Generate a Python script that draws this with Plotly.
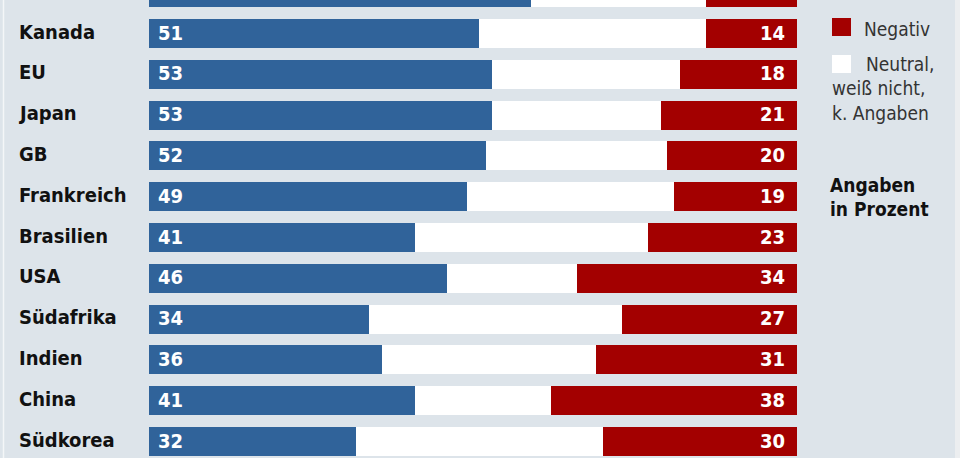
import plotly.graph_objects as go

countries = ["Deutschland", "Kanada", "EU", "Japan", "GB", "Frankreich", "Brasilien",
             "USA", "Südafrika", "Indien", "China", "Südkorea"]
positiv = [59, 51, 53, 53, 52, 49, 41, 46, 34, 36, 41, 32]
neutral = [27, 35, 29, 26, 28, 32, 36, 20, 39, 33, 21, 38]
negativ = [14, 14, 18, 21, 20, 19, 23, 34, 27, 31, 38, 30]

BLUE = "#30639a"
RED = "#a30000"
BG = "#dde4ea"
FONT = "DejaVu Sans Condensed, Liberation Sans Narrow, Roboto, sans-serif"

W, H = 960, 458
x0_px, x100_px = 149, 797
ppu = (x100_px - x0_px) / 100.0
xr = [-x0_px / ppu, (W - x0_px) / ppu]

pitch = (441.5 - 33.5) / 10
first_center = 33.5 - pitch
yr = [(H - first_center) / pitch, (0 - first_center) / pitch]

fig = go.Figure()
for vals, col, name in [(positiv, BLUE, "Positiv"), (neutral, "#ffffff", "Neutral"), (negativ, RED, "Negativ")]:
    fig.add_trace(go.Bar(y=countries, x=vals, orientation="h", marker=dict(color=col, line=dict(width=0)),
                         width=29 / pitch, name=name, showlegend=False, hoverinfo="skip"))

ann = []
for c, p, n in zip(countries, positiv, negativ):
    ann.append(dict(x=(18 - x0_px) / ppu, y=c, xref="x", yref="y", text=f"<b>{c}</b>", showarrow=False,
                    xanchor="left", yanchor="middle", yshift=2, xshift=-1,
                    font=dict(family=FONT, size=20, color="#111111")))
    ann.append(dict(x=0, y=c, xref="x", yref="y", text=f"<b>{p}</b>", showarrow=False, xshift=7, yshift=1,
                    xanchor="left", yanchor="middle", font=dict(family=FONT, size=20, color="#ffffff")))
    ann.append(dict(x=100, y=c, xref="x", yref="y", text=f"<b>{n}</b>", showarrow=False, xshift=-10, yshift=1,
                    xanchor="right", yanchor="middle", font=dict(family=FONT, size=20, color="#ffffff")))

def px_x(px):
    return px / W

def px_y(py):
    return 1 - py / H

legend_items = [("Positiv", BLUE, -19), ("Negativ", RED, 18), ("", "#ffffff", 55)]
shapes = []
for lab, col, top in legend_items:
    shapes.append(dict(type="rect", xref="paper", yref="paper", x0=px_x(832), x1=px_x(851),
                       y0=px_y(top + 18), y1=px_y(top), fillcolor=col, line=dict(width=0)))
    if lab:
        ann.append(dict(x=px_x(862), y=px_y(top + 11), xref="paper", yref="paper", text=lab, showarrow=False,
                        xanchor="left", yanchor="middle", font=dict(family=FONT, size=19, color="#333333")))
ann.append(dict(x=px_x(864), y=px_y(64), xref="paper", yref="paper", text="Neutral,", showarrow=False,
                xanchor="left", yanchor="middle", font=dict(family=FONT, size=19, color="#333333")))
ann.append(dict(x=px_x(830), y=px_y(88), xref="paper", yref="paper", text="weiß nicht,", showarrow=False,
                xanchor="left", yanchor="middle", font=dict(family=FONT, size=19, color="#333333")))
ann.append(dict(x=px_x(830), y=px_y(113), xref="paper", yref="paper", text="k. Angaben", showarrow=False,
                xanchor="left", yanchor="middle", font=dict(family=FONT, size=19, color="#333333")))
ann.append(dict(x=px_x(828), y=px_y(185), xref="paper", yref="paper", text="<b>Angaben</b>", showarrow=False,
                xanchor="left", yanchor="middle", font=dict(family=FONT, size=19, color="#111111")))
ann.append(dict(x=px_x(828), y=px_y(209), xref="paper", yref="paper", text="<b>in Prozent</b>", showarrow=False,
                xanchor="left", yanchor="middle", font=dict(family=FONT, size=19, color="#111111")))

shapes.append(dict(type="line", xref="paper", yref="paper", x0=px_x(3.5), x1=px_x(3.5), y0=0, y1=1,
                   line=dict(color="#f4f6f8", width=1.5)))
shapes.append(dict(type="rect", xref="paper", yref="paper", x0=px_x(955), x1=1, y0=0, y1=1,
                   fillcolor="#eceef0", line=dict(width=0)))

fig.update_layout(
    width=W, height=H, margin=dict(l=0, r=0, t=0, b=0),
    barmode="stack", bargap=0,
    paper_bgcolor=BG, plot_bgcolor=BG,
    xaxis=dict(range=xr, visible=False, fixedrange=True),
    yaxis=dict(range=yr, visible=False, categoryorder="array", categoryarray=countries, fixedrange=True),
    annotations=ann, shapes=shapes, showlegend=False,
)
fig.write_html("out.html", config={"displayModeBar": False},
               post_script="document.body.style.margin='0';document.body.style.overflow='hidden';")
